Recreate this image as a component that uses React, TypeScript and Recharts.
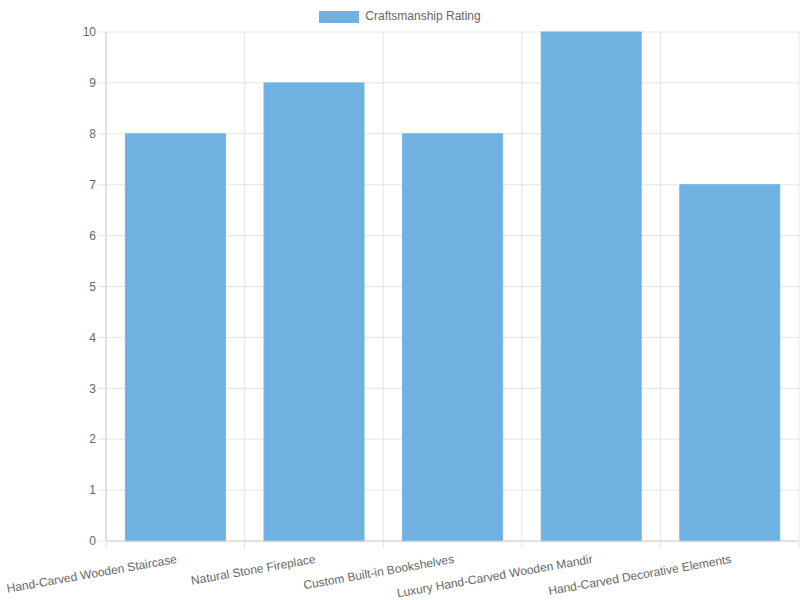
import { BarChart, Bar, XAxis, YAxis, CartesianGrid, Legend } from 'recharts'

const categories = [
  'Hand-Carved Wooden Staircase',
  'Natural Stone Fireplace',
  'Custom Built-in Bookshelves',
  'Luxury Hand-Carved Wooden Mandir',
  'Hand-Carved Decorative Elements',
]
const ratings = [8, 9, 8, 10, 7]
const yTicks = [0, 1, 2, 3, 4, 5, 6, 7, 8, 9, 10]

const W = 800
const H = 600
const AXIS_W = 106
const FONT = '"Liberation Sans", Helvetica, Arial, sans-serif'
const INK = '#666'
const GRID = '#e5e5e5'
const BAR = '#6fb1e0'

const data = categories.map((name, i) => ({ name, rating: ratings[i] }))
const step = (W - 1 - AXIS_W) / categories.length

// rotated category label, plus the short tick marks on the band edges
function CategoryTick(props: any) {
  const { x, y, payload, index } = props
  const left = x - step / 2
  return (
    <g>
      <line x1={left} x2={left} y1={y - 10} y2={y - 2} stroke={GRID} />
      {index === categories.length - 1 && (
        <line x1={x + step / 2} x2={x + step / 2} y1={y - 10} y2={y - 2} stroke={GRID} />
      )}
      <g transform={`translate(${x},${y}) rotate(-10)`}>
        <text x={0} y={12} textAnchor="end" fill={INK} fontSize={12} fontFamily={FONT}>
          {payload.value}
        </text>
      </g>
    </g>
  )
}

function TopLegend() {
  return (
    <div style={{ display: 'flex', justifyContent: 'center', alignItems: 'center', fontFamily: FONT, fontSize: 12, lineHeight: '13px', color: INK }}>
      <span style={{ display: 'inline-block', width: 40, height: 12, background: BAR, marginRight: 6 }} />
      <span>Craftsmanship Rating</span>
    </div>
  )
}

export default function App() {
  return (
    <div style={{ position: 'absolute', left: 0, top: 0, width: W, height: H, background: '#fff' }}>
      <BarChart width={W} height={H} data={data} margin={{ top: 19, right: 1, left: 0, bottom: 0 }} barCategoryGap="14%">
        <CartesianGrid
          stroke={GRID}
          verticalCoordinatesGenerator={({ offset }: any) =>
            categories.map((_, i) => offset.left + (i * offset.width) / categories.length).concat(offset.left + offset.width)
          }
        />
        <Legend verticalAlign="top" wrapperStyle={{ top: 10, left: 0, width: W }} content={<TopLegend />} />
        <XAxis
          dataKey="name"
          interval={0}
          height={59}
          tickSize={8}
          tickLine={false}
          axisLine={{ stroke: '#d0d0d0' }}
          tick={<CategoryTick />}
        />
        <YAxis
          width={AXIS_W}
          domain={[0, 10]}
          ticks={yTicks}
          interval={0}
          tickSize={8}
          tickLine={{ stroke: GRID }}
          axisLine={{ stroke: '#d0d0d0' }}
          tick={{ fill: INK, fontSize: 12, fontFamily: FONT }}
        />
        <Bar dataKey="rating" fill={BAR} stroke="#74b5e2" strokeWidth={1} isAnimationActive={false} />
      </BarChart>
    </div>
  )
}
